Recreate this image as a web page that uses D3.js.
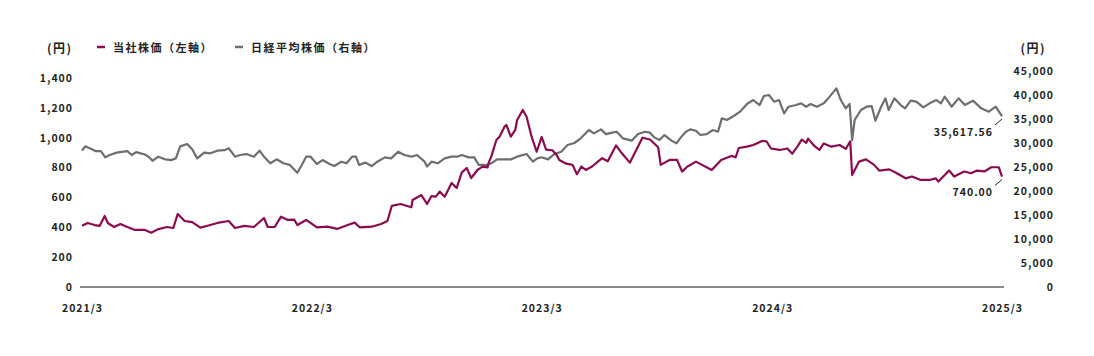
<!DOCTYPE html>
<html>
<head>
<meta charset="utf-8">
<script src="https://cdn.jsdelivr.net/npm/d3@7"></script>
<style>
  body { margin: 0; background: #fff; }
  text { font-family: "Noto Sans CJK JP", "Noto Sans", sans-serif; font-weight: 700; fill: #222; }
</style>
</head>
<body>
<svg id="chart" width="1094" height="356"></svg>
<script>
// Company share price (left axis, yen)
const companyDates = [
  "2021-03-31","2021-04-09","2021-04-20","2021-04-28","2021-05-06","2021-05-11","2021-05-21","2021-05-31","2021-06-11","2021-06-23",
  "2021-07-09","2021-07-19","2021-07-29","2021-08-13","2021-08-23","2021-08-30","2021-09-10","2021-09-22","2021-10-05","2021-10-15",
  "2021-11-01","2021-11-19","2021-11-29","2021-12-14","2021-12-29",
  "2022-01-14","2022-01-20","2022-01-31","2022-02-10","2022-02-21","2022-03-03","2022-03-08","2022-03-22","2022-03-29","2022-04-08",
  "2022-04-25","2022-05-10","2022-05-27","2022-06-07","2022-06-15","2022-07-04","2022-07-19","2022-07-29","2022-08-05","2022-08-19",
  "2022-09-05","2022-09-07","2022-09-21","2022-09-30","2022-10-07","2022-10-14","2022-10-20","2022-10-28","2022-11-08","2022-11-16",
  "2022-11-24","2022-12-02","2022-12-09","2022-12-19","2022-12-27",
  "2023-01-04","2023-01-06","2023-01-10","2023-01-18","2023-01-23","2023-01-31","2023-02-03","2023-02-10","2023-02-17","2023-02-20",
  "2023-03-01","2023-03-07","2023-03-15","2023-03-23","2023-03-31","2023-04-07","2023-04-17","2023-04-24","2023-04-28","2023-05-09",
  "2023-05-19","2023-05-26","2023-06-02","2023-06-09","2023-06-19","2023-07-05","2023-07-14","2023-07-27","2023-08-04","2023-08-18",
  "2023-09-07","2023-09-19","2023-10-02","2023-10-06","2023-10-20","2023-11-01","2023-11-09","2023-11-17","2023-12-01","2023-12-26",
  "2024-01-10","2024-01-26","2024-02-02","2024-02-07","2024-02-20","2024-03-01","2024-03-15","2024-03-22","2024-03-29","2024-04-12",
  "2024-04-24","2024-05-02","2024-05-10","2024-05-17","2024-05-24","2024-05-27","2024-06-06","2024-06-14","2024-06-21","2024-07-03",
  "2024-07-16","2024-07-26","2024-08-02","2024-08-05","2024-08-16","2024-08-27","2024-09-09","2024-09-17","2024-10-03","2024-10-15",
  "2024-10-29","2024-11-08","2024-11-22","2024-12-06","2024-12-16","2024-12-20",
  "2025-01-06","2025-01-14","2025-01-30","2025-02-10","2025-02-19","2025-03-03","2025-03-14","2025-03-26","2025-03-31"
];
const companyValues = [
  410,429,415,409,476,429,402,422,402,382,
  382,364,386,402,395,489,442,435,398,409,
  429,442,395,409,402,
  462,402,402,471,449,451,415,449,429,400,
  404,389,415,431,400,404,422,442,543,556,
  534,583,616,556,609,605,639,605,697,663,
  766,797,730,784,806,
  801,835,873,985,1007,1074,1085,1007,1052,1119,
  1186,1141,1007,906,1005,920,916,882,851,826,
  818,755,807,784,807,863,842,948,903,833,
  1000,988,936,818,851,851,773,806,840,784,
  851,878,869,931,940,951,978,976,928,918,
  928,893,940,987,965,994,945,918,962,940,
  951,925,976,750,840,855,818,780,788,762,
  728,740,717,717,728,706,
  780,740,774,762,780,774,802,802,740
];

// Nikkei 225 (right axis, yen)
const nikkeiDates = [
  "2021-03-31","2021-04-05","2021-04-14","2021-04-22","2021-04-30","2021-05-07","2021-05-14","2021-05-25","2021-06-11","2021-06-18",
  "2021-06-25","2021-07-09","2021-07-16","2021-07-21","2021-07-30","2021-08-10","2021-08-20","2021-08-27","2021-09-03","2021-09-14",
  "2021-09-22","2021-09-30","2021-10-11","2021-10-21","2021-11-01","2021-11-12","2021-11-19","2021-11-29","2021-12-07","2021-12-17",
  "2021-12-29",
  "2022-01-07","2022-01-14","2022-01-24","2022-02-03","2022-02-14","2022-02-24","2022-03-08","2022-03-15","2022-03-22","2022-03-29",
  "2022-04-08","2022-04-17","2022-04-28","2022-05-06","2022-05-17","2022-05-25","2022-06-03","2022-06-09","2022-06-14","2022-06-24",
  "2022-07-04","2022-07-13","2022-07-25","2022-08-04","2022-08-15","2022-08-25","2022-09-05","2022-09-14","2022-09-26","2022-09-30",
  "2022-10-07","2022-10-17","2022-10-28","2022-11-08","2022-11-17","2022-11-24","2022-12-05","2022-12-14","2022-12-21",
  "2023-01-04","2023-01-10","2023-01-19","2023-01-30","2023-02-10","2023-02-20","2023-03-07","2023-03-17","2023-03-24","2023-03-31",
  "2023-04-10","2023-04-20","2023-05-01","2023-05-11","2023-05-22","2023-06-01","2023-06-14","2023-06-22","2023-07-03","2023-07-11",
  "2023-07-21","2023-07-28","2023-08-07","2023-08-21","2023-08-31","2023-09-11","2023-09-19","2023-09-26","2023-10-04","2023-10-12",
  "2023-10-23","2023-10-31","2023-11-07","2023-11-15","2023-11-22","2023-12-01","2023-12-08","2023-12-18","2023-12-28",
  "2024-01-05","2024-01-11","2024-01-19","2024-01-30","2024-02-09","2024-02-20","2024-03-01","2024-03-11","2024-03-18","2024-03-26",
  "2024-04-03","2024-04-11","2024-04-19","2024-04-26","2024-05-08","2024-05-16","2024-05-24","2024-05-31","2024-06-10","2024-06-21",
  "2024-06-28","2024-07-11","2024-07-18","2024-07-26","2024-08-01","2024-08-05","2024-08-09","2024-08-19","2024-08-28","2024-09-05",
  "2024-09-11","2024-09-20","2024-09-27","2024-10-02","2024-10-11","2024-10-21","2024-10-28","2024-11-06","2024-11-15","2024-11-26",
  "2024-12-06","2024-12-17","2024-12-24","2024-12-30",
  "2025-01-10","2025-01-21","2025-01-31","2025-02-13","2025-02-26","2025-03-10","2025-03-21","2025-03-31"
];
const nikkeiValues = [
  28400,29300,28800,28300,28300,27000,27500,28000,28300,27500,
  28100,27600,27000,26300,27150,26600,26450,26800,29300,29800,
  28700,26800,28000,27850,28400,28500,28900,27150,27500,27700,
  27150,
  28400,27150,25770,26600,25770,25430,23800,25430,27150,27150,
  25630,26450,25630,25200,26110,25770,27150,27150,25430,25910,
  25200,26110,27000,26800,28180,27500,27150,27500,26110,25090,
  26110,25770,26800,27150,27150,27500,27000,27000,25430,
  25430,25770,26590,26590,26590,27150,27700,26110,26800,27020,
  26590,27700,28180,29580,30000,30970,32700,32000,32840,31860,
  32150,32350,30970,30490,31860,32350,32150,31170,30630,31660,
  30490,29930,31170,32350,32840,32560,31660,31860,32700,
  32350,35140,34790,35620,36520,38120,38950,37910,39790,40000,
  38610,38950,36180,37560,37910,38260,37560,38120,37560,38260,
  39300,41380,38950,37220,38120,30620,34790,36870,37560,37700,
  34650,37560,39300,36870,39300,37910,37220,38820,38610,37430,
  38260,38950,38260,39650,
  37560,39300,37910,38820,37220,36520,37560,35617.56
];

const yearTickDates = ["2021-03-31","2022-03-31","2023-03-31","2024-03-31","2025-03-31"];
const yearLabels = ["2021/3","2022/3","2023/3","2024/3","2025/3"];
const leftTicks = [0,200,400,600,800,1000,1200,1400];
const rightTicks = [0,5000,10000,15000,20000,25000,30000,35000,40000,45000];

const companyColor = "#8a0c4e";
const nikkeiColor = "#6e6e6e";

const parse = d3.timeParse("%Y-%m-%d");
const svg = d3.select("#chart");

const x = d3.scaleTime()
  .domain([parse(yearTickDates[0]), parse(yearTickDates[yearTickDates.length - 1])])
  .range([82, 1002]);
const yL = d3.scaleLinear().domain([0, 1400]).range([287, 78]);
const yR = d3.scaleLinear().domain([0, 45000]).range([287, 71]);

const fmt = d3.format(",");

// left axis
const leftAxis = svg.append("g")
  .attr("transform", "translate(76,0)")
  .call(d3.axisLeft(yL).tickValues(leftTicks).tickFormat(fmt).tickSize(0).tickPadding(3));
// right axis (labels right-aligned)
const rightAxis = svg.append("g")
  .attr("transform", "translate(1054,0)")
  .call(d3.axisRight(yR).tickValues(rightTicks).tickFormat(fmt).tickSize(0).tickPadding(0));
rightAxis.selectAll("text").attr("text-anchor", "end").attr("x", 0);

// bottom axis
const bottomAxis = svg.append("g")
  .attr("transform", "translate(0,287)")
  .call(d3.axisBottom(x).tickValues(yearTickDates.map(parse))
    .tickFormat((d, i) => yearLabels[i]).tickSize(0).tickPadding(18));

[leftAxis, rightAxis, bottomAxis].forEach(g => {
  g.select(".domain").remove();
  g.selectAll("text")
    .attr("font-family", null).attr("font-size", null)
    .style("font-size", "10.5px")
    .style("letter-spacing", "1px")
    .attr("fill", "#222");
});

// baseline
svg.append("line")
  .attr("x1", 80).attr("x2", 1004)
  .attr("y1", 287).attr("y2", 287)
  .attr("stroke", "#8a8a8a").attr("stroke-width", 2);

// lines
const nikkeiData = nikkeiDates.map((d, i) => ({ date: parse(d), value: nikkeiValues[i] }));
const companyData = companyDates.map((d, i) => ({ date: parse(d), value: companyValues[i] }));

svg.append("path")
  .datum(nikkeiData)
  .attr("fill", "none")
  .attr("stroke", nikkeiColor)
  .attr("stroke-width", 2.2)
  .attr("stroke-linejoin", "round")
  .attr("d", d3.line().x(d => x(d.date)).y(d => yR(d.value)));

svg.append("path")
  .datum(companyData)
  .attr("fill", "none")
  .attr("stroke", companyColor)
  .attr("stroke-width", 2.2)
  .attr("stroke-linejoin", "round")
  .attr("d", d3.line().x(d => x(d.date)).y(d => yL(d.value)));

// unit labels
svg.append("text").attr("x", 47).attr("y", 47).attr("dominant-baseline", "central")
  .style("font-size", "12px").style("letter-spacing", "1.5px").text("(円)");
svg.append("text").attr("x", 1046).attr("y", 47).attr("dominant-baseline", "central")
  .attr("text-anchor", "end").style("font-size", "12px").style("letter-spacing", "1.5px").text("(円)");

// legend
const legend = [
  { label: "当社株価（左軸）", color: companyColor, x: 97 },
  { label: "日経平均株価（右軸）", color: nikkeiColor, x: 235 }
];
legend.forEach(l => {
  svg.append("line")
    .attr("x1", l.x).attr("x2", l.x + 8)
    .attr("y1", 47).attr("y2", 47)
    .attr("stroke", l.color).attr("stroke-width", 2.5);
  svg.append("text")
    .attr("x", l.x + 16).attr("y", 47)
    .attr("dominant-baseline", "central")
    .style("font-size", "11px")
    .style("letter-spacing", "1.5px")
    .text(l.label);
});

// last value callouts
const lastCompany = companyData[companyData.length - 1];
const lastNikkei = nikkeiData[nikkeiData.length - 1];
const callouts = [
  { text: d3.format(",.2f")(lastNikkei.value), px: x(lastNikkei.date), py: yR(lastNikkei.value) },
  { text: d3.format(",.2f")(lastCompany.value), px: x(lastCompany.date), py: yL(lastCompany.value) }
];
callouts.forEach(c => {
  svg.append("line")
    .attr("x1", c.px).attr("y1", c.py + 3)
    .attr("x2", c.px - 7).attr("y2", c.py + 9)
    .attr("stroke", "#222").attr("stroke-width", 1);
  svg.append("text")
    .attr("x", c.px - 9).attr("y", c.py + 15)
    .attr("text-anchor", "end")
    .attr("dominant-baseline", "central")
    .style("font-size", "10.5px")
    .style("letter-spacing", "1px")
    .text(c.text);
});
</script>
</body>
</html>
